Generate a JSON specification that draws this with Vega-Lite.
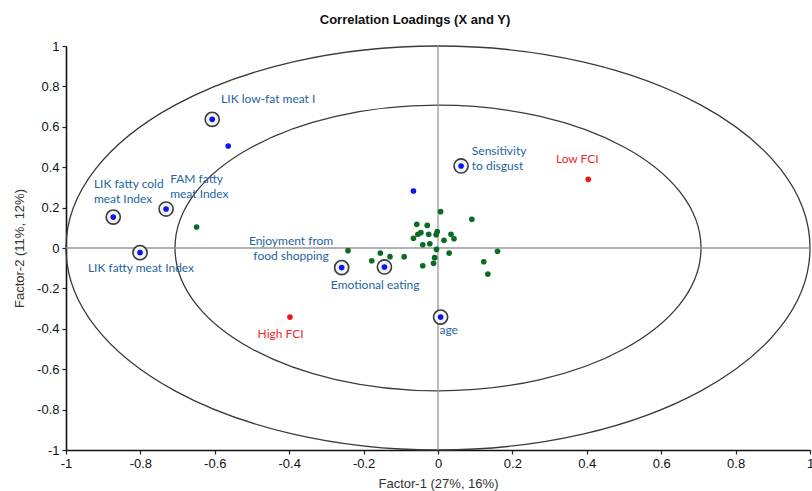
{
  "$schema": "https://vega.github.io/schema/vega-lite/v6.json",
  "width": 744,
  "height": 404,
  "autosize": "none",
  "padding": {"left": 66, "top": 46, "right": 2, "bottom": 41},
  "background": "white",
  "config": {"view": {"stroke": null}},
  "title": {
    "text": "Correlation Loadings (X and Y)",
    "font": "Liberation Sans",
    "fontSize": 13,
    "fontWeight": "bold",
    "color": "#111111",
    "anchor": "middle",
    "dx": -23,
    "offset": 13
  },
  "resolve": {"scale": {"color": "independent"}},
  "datasets": {
    "ellipses": [{"r": 1}, {"r": 0.707}],
    "points": [
      {"name": "LIK low-fat meat I", "x": -0.607, "y": 0.637, "type": "blue", "ring": true},
      {"name": "LIK fatty cold meat Index", "x": -0.873, "y": 0.153, "type": "blue", "ring": true},
      {"name": "FAM fatty meat Index", "x": -0.731, "y": 0.193, "type": "blue", "ring": true},
      {"name": "LIK fatty meat Index", "x": -0.801, "y": -0.023, "type": "blue", "ring": true},
      {"name": "Sensitivity to disgust", "x": 0.062, "y": 0.406, "type": "blue", "ring": true},
      {"name": "Enjoyment from food shopping", "x": -0.259, "y": -0.097, "type": "blue", "ring": true},
      {"name": "Emotional eating", "x": -0.144, "y": -0.094, "type": "blue", "ring": true},
      {"name": "age", "x": 0.007, "y": -0.342, "type": "blue", "ring": true},
      {"name": "b1", "x": -0.564, "y": 0.505, "type": "blue", "ring": false},
      {"name": "b2", "x": -0.066, "y": 0.282, "type": "blue", "ring": false},
      {"name": "Low FCI", "x": 0.404, "y": 0.340, "type": "red", "ring": false},
      {"name": "High FCI", "x": -0.398, "y": -0.342, "type": "red", "ring": false},
      {"name": "g1", "x": -0.649, "y": 0.104, "type": "green", "ring": false},
      {"name": "g2", "x": 0.007, "y": 0.180, "type": "green", "ring": false},
      {"name": "g3", "x": 0.091, "y": 0.142, "type": "green", "ring": false},
      {"name": "g4", "x": -0.057, "y": 0.117, "type": "green", "ring": false},
      {"name": "g5", "x": -0.029, "y": 0.112, "type": "green", "ring": false},
      {"name": "g6", "x": -0.046, "y": 0.076, "type": "green", "ring": false},
      {"name": "g7", "x": -0.054, "y": 0.068, "type": "green", "ring": false},
      {"name": "g8", "x": -0.066, "y": 0.048, "type": "green", "ring": false},
      {"name": "g9", "x": -0.025, "y": 0.068, "type": "green", "ring": false},
      {"name": "g10", "x": -0.002, "y": 0.081, "type": "green", "ring": false},
      {"name": "g11", "x": -0.005, "y": 0.066, "type": "green", "ring": false},
      {"name": "g12", "x": 0.035, "y": 0.068, "type": "green", "ring": false},
      {"name": "g13", "x": 0.043, "y": 0.046, "type": "green", "ring": false},
      {"name": "g14", "x": 0.016, "y": 0.038, "type": "green", "ring": false},
      {"name": "g15", "x": -0.041, "y": 0.016, "type": "green", "ring": false},
      {"name": "g16", "x": -0.022, "y": 0.021, "type": "green", "ring": false},
      {"name": "g17", "x": -0.004, "y": -0.007, "type": "green", "ring": false},
      {"name": "g18", "x": 0.030, "y": -0.025, "type": "green", "ring": false},
      {"name": "g19", "x": 0.160, "y": -0.016, "type": "green", "ring": false},
      {"name": "g20", "x": -0.009, "y": -0.048, "type": "green", "ring": false},
      {"name": "g21", "x": -0.012, "y": -0.076, "type": "green", "ring": false},
      {"name": "g22", "x": -0.041, "y": -0.088, "type": "green", "ring": false},
      {"name": "g23", "x": 0.123, "y": -0.068, "type": "green", "ring": false},
      {"name": "g24", "x": 0.134, "y": -0.129, "type": "green", "ring": false},
      {"name": "g25", "x": -0.091, "y": -0.043, "type": "green", "ring": false},
      {"name": "g26", "x": -0.129, "y": -0.043, "type": "green", "ring": false},
      {"name": "g27", "x": -0.155, "y": -0.025, "type": "green", "ring": false},
      {"name": "g28", "x": -0.178, "y": -0.063, "type": "green", "ring": false},
      {"name": "g29", "x": -0.242, "y": -0.013, "type": "green", "ring": false}
    ],
    "labels": [
      {"text": "LIK low-fat meat I", "lx": -0.583, "ly": 0.738, "align": "left", "kind": "blue"},
      {"text": "LIK fatty cold\nmeat Index", "lx": -0.925, "ly": 0.317, "align": "left", "kind": "blue"},
      {"text": "FAM fatty\nmeat Index", "lx": -0.720, "ly": 0.342, "align": "left", "kind": "blue"},
      {"text": "LIK fatty meat Index", "lx": -0.941, "ly": -0.097, "align": "left", "kind": "blue"},
      {"text": "Sensitivity\nto disgust", "lx": 0.091, "ly": 0.480, "align": "left", "kind": "blue"},
      {"text": "Enjoyment  from\nfood shopping", "lx": -0.395, "ly": 0.035, "align": "center", "kind": "blue"},
      {"text": "Emotional eating", "lx": -0.288, "ly": -0.185, "align": "left", "kind": "blue"},
      {"text": "age", "lx": 0.004, "ly": -0.406, "align": "left", "kind": "blue"},
      {"text": "Low FCI", "lx": 0.317, "ly": 0.441, "align": "left", "kind": "red"},
      {"text": "High FCI", "lx": -0.485, "ly": -0.424, "align": "left", "kind": "red"}
    ]
  },
  "layer": [
    {
      "data": {"name": "ellipses"},
      "mark": {
        "type": "point",
        "shape": "M-1,0A1,0.543,0,1,1,1,0A1,0.543,0,1,1,-1,0Z",
        "filled": false,
        "stroke": "#3a3a3a",
        "strokeWidth": 1.3,
        "opacity": 1
      },
      "encoding": {
        "x": {"datum": 0, "type": "quantitative"},
        "y": {"datum": 0, "type": "quantitative"},
        "size": {
          "field": "r",
          "type": "quantitative",
          "scale": {"type": "pow", "exponent": 2, "domain": [0, 1], "range": [0, 553536]},
          "legend": null
        }
      }
    },
    {
      "data": {"values": [{"v": 0}]},
      "mark": {"type": "rule", "color": "#999999", "strokeWidth": 1.3},
      "encoding": {"x": {"field": "v", "type": "quantitative"}}
    },
    {
      "data": {"values": [{"v": 0}]},
      "mark": {"type": "rule", "color": "#999999", "strokeWidth": 1.3},
      "encoding": {"y": {"field": "v", "type": "quantitative"}}
    },
    {
      "data": {"name": "points"},
      "transform": [{"filter": "datum.ring"}],
      "mark": {"type": "point", "shape": "circle", "size": 200, "filled": true, "fill": "#f2f2f2", "stroke": "#3a3a3a", "strokeWidth": 1.6, "opacity": 1},
      "encoding": {
        "x": {"field": "x", "type": "quantitative"},
        "y": {"field": "y", "type": "quantitative"}
      }
    },
    {
      "data": {"name": "points"},
      "mark": {"type": "point", "shape": "circle", "size": 32, "filled": true, "opacity": 1},
      "encoding": {
        "x": {
          "field": "x",
          "type": "quantitative",
          "scale": {"domain": [-1, 1], "nice": false, "zero": false},
          "axis": {
            "values": [-1, -0.9, -0.8, -0.7, -0.6, -0.5, -0.4, -0.3, -0.2, -0.1, 0, 0.1, 0.2, 0.3, 0.4, 0.5, 0.6, 0.7, 0.8, 0.9, 1],
            "labelExpr": "abs(round(datum.value*10)) % 2 == 0 ? (datum.value < 0 ? '-' + format(-datum.value, '~g') : format(datum.value, '~g')) : ''",
            "title": "Factor-1 (27%, 16%)",
            "grid": false,
            "domainColor": "#111111",
            "domainWidth": 1.6,
            "tickColor": "#222222",
            "tickSize": 4,
            "tickWidth": 1.2,
            "labelFont": "Liberation Sans",
            "labelFontSize": 13,
            "labelColor": "#111111",
            "labelPadding": 3,
            "labelOverlap": false,
            "labelFlush": false,
            "labelBound": false,
            "titleFont": "Liberation Sans",
            "titleFontSize": 13,
            "titleFontWeight": "normal",
            "titleColor": "#333333",
            "titlePadding": 7
          }
        },
        "y": {
          "field": "y",
          "type": "quantitative",
          "scale": {"domain": [-1, 1], "nice": false, "zero": false},
          "axis": {
            "values": [-1, -0.9, -0.8, -0.7, -0.6, -0.5, -0.4, -0.3, -0.2, -0.1, 0, 0.1, 0.2, 0.3, 0.4, 0.5, 0.6, 0.7, 0.8, 0.9, 1],
            "labelExpr": "abs(round(datum.value*10)) % 2 == 0 ? (datum.value < 0 ? '-' + format(-datum.value, '~g') : format(datum.value, '~g')) : ''",
            "title": "Factor-2 (11%, 12%)",
            "grid": false,
            "domainColor": "#111111",
            "domainWidth": 1.6,
            "tickColor": "#222222",
            "tickSize": 4,
            "tickWidth": 1.2,
            "labelFont": "Liberation Sans",
            "labelFontSize": 13,
            "labelColor": "#111111",
            "labelPadding": 3,
            "labelOverlap": false,
            "labelBound": false,
            "titleFont": "Liberation Sans",
            "titleFontSize": 13,
            "titleFontWeight": "normal",
            "titleColor": "#333333",
            "titlePadding": 10
          }
        },
        "color": {
          "field": "type",
          "type": "nominal",
          "scale": {"domain": ["blue", "green", "red"], "range": ["#0a14f0", "#0b6b23", "#f01414"]},
          "legend": null
        }
      }
    },
    {
      "data": {"name": "labels"},
      "transform": [{"filter": "datum.align == 'left'"}],
      "mark": {"type": "text", "font": "Lato", "fontSize": 12, "align": "left", "baseline": "middle", "lineBreak": "\n", "lineHeight": 15},
      "encoding": {
        "x": {"field": "lx", "type": "quantitative"},
        "y": {"field": "ly", "type": "quantitative"},
        "text": {"field": "text"},
        "color": {
          "field": "kind",
          "type": "nominal",
          "scale": {"domain": ["blue", "red"], "range": ["#2564a0", "#ee2a2a"]},
          "legend": null
        }
      }
    },
    {
      "data": {"name": "labels"},
      "transform": [{"filter": "datum.align == 'center'"}],
      "mark": {"type": "text", "font": "Lato", "fontSize": 12, "align": "center", "baseline": "middle", "lineBreak": "\n", "lineHeight": 15, "color": "#2564a0"},
      "encoding": {
        "x": {"field": "lx", "type": "quantitative"},
        "y": {"field": "ly", "type": "quantitative"},
        "text": {"field": "text"}
      }
    }
  ]
}
